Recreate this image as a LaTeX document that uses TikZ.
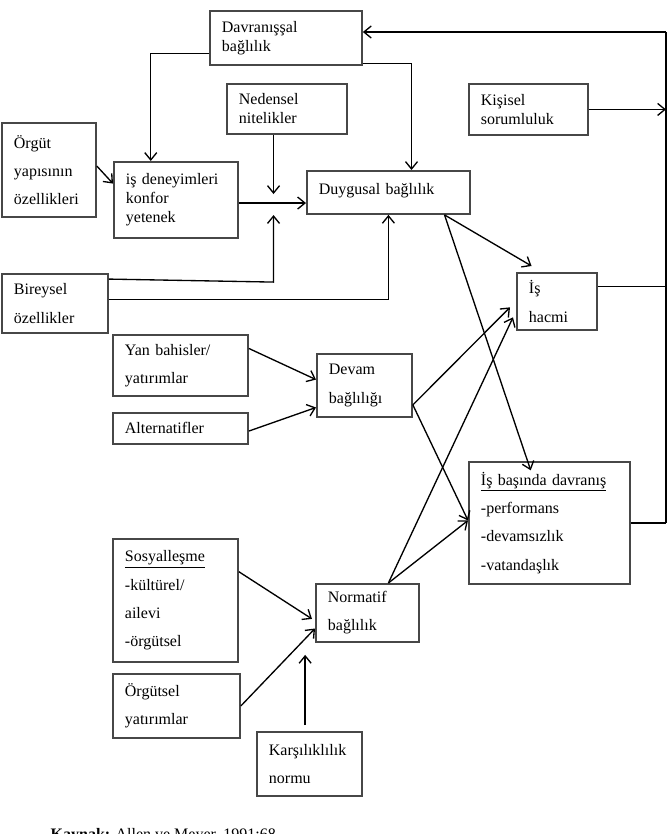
\documentclass[tikz,border=0pt]{standalone}
\usepackage{fontspec}
\setmainfont{Liberation Serif}
\usetikzlibrary{
    arrows.meta,
    calc
}
\tikzset{
    every picture/.style = {
        > = {Straight Barb[length = 5.5pt, width = 9pt]},
        x = 0.75pt,
        y = -0.75pt,
        line width = 1pt
    },
    box/.style 2 args = {
        draw = black!72,
        line width = 1.4pt,
        anchor = north west,
        align = left,
        inner xsep = 9pt,
        inner ysep = 0pt,
        text width = #1,
        minimum height = #2
    },
    tight/.style = {font = \fontsize{12}{14.25}\selectfont},
    loose/.style = {font = \fontsize{12}{21.2}\selectfont}
}

\begin{document}
\begin{tikzpicture}[font = \fontsize{12}{14}\selectfont]
                \useasboundingbox (0, 0) rectangle (667, 834);
                \node[box = {96pt}{40.5pt}, tight] (dav) at (209, 10) {Davranışşal\\bağlılık};
                \node[box = {72pt}{37.5pt}, tight] (ned) at (226, 83) {Nedensel\\nitelikler};
                \node[box = {71.25pt}{38.25pt}, tight] (kis) at (468, 83) {Kişisel\\sorumluluk};
                \node[box = {52.5pt}{70.5pt}, loose] (orgut) at (1, 122) {Örgüt\\yapısının\\özellikleri};
                \node[box = {75pt}{57pt}, tight] (isdeney) at (113, 161) {iş deneyimleri\\konfor\\yetenek};
                \node[box = {104.25pt}{32.25pt}, tight, text depth = 5pt] (duyg) at (306, 170) {Duygusal bağlılık};
                \node[box = {61.5pt}{44.25pt}, loose] (bir) at (1, 273) {Bireysel\\özellikler};
                \node[box = {42pt}{42.75pt}, loose] (hacmi) at (516, 272) {İş\\hacmi};
                \node[box = {83.25pt}{45.75pt}, loose] (yan) at (112, 334) {Yan bahisler/\\yatırımlar};
                \node[box = {83.25pt}{23.25pt}, loose] (alt) at (112, 412) {Alternatifler};
                \node[box = {53.25pt}{47.25pt}, loose] (devam) at (316, 353) {Devam\\bağlılığı};
                \node[box = {102.75pt}{91.5pt}, loose] (davr) at (468, 461) {\underline{İş başında davranış}\\-performans\\-devamsızlık\\-vatandaşlık};
                \node[box = {75.75pt}{92.25pt}, loose] (sos) at (112, 538) {\underline{Sosyalleşme}\\-kültürel/\\ailevi\\-örgütsel};
                \node[box = {59.25pt}{43.5pt}, loose] (norm) at (315, 583) {Normatif\\bağlılık};
                \node[box = {77.25pt}{48pt}, loose] (orgyat) at (112, 673) {Örgütsel\\yatırımlar};
                \node[box = {60.75pt}{48pt}, loose] (kars) at (256, 731) {Karşılıklılık\\normu};
                \node[anchor = base west, inner sep = 0pt] (kaynak) at (50, 839) {\textbf{Kaynak:} Allen ve Meyer, 1991:68};
                \coordinate (rtop) at (666, 32);
                \coordinate (rbot) at (davr.east -| rtop);
                \coordinate (davA) at ($(dav.north west)!0.78!(dav.south west)$);
                \coordinate (davB) at ($(dav.north east)!0.96!(dav.south east)$);
                \coordinate (isA) at ($(isdeney.north west)!0.3!(isdeney.north east)$);
                \coordinate (isB) at ($(isdeney.north west)!0.29!(isdeney.south west)$);
                \coordinate (isC) at ($(isdeney.north east)!0.54!(isdeney.south east)$);
                \coordinate (duyA) at ($(duyg.north west)!0.64!(duyg.north east)$);
                \coordinate (duyB) at ($(duyg.south west)!0.84!(duyg.south east)$);
                \coordinate (orgA) at ($(orgut.north east)!0.46!(orgut.south east)$);
                \coordinate (nedA) at ($(ned.south west)!0.39!(ned.south east)$);
                \coordinate (birA) at ($(bir.north east)!0.1!(bir.south east)$);
                \coordinate (birB) at ($(bir.north east)!0.44!(bir.south east)$);
                \coordinate (hacA) at ($(hacmi.north west)!0.19!(hacmi.north east)$);
                \coordinate (hacB) at ($(hacmi.north west)!0.6!(hacmi.south west)$);
                \coordinate (hacC) at ($(hacmi.north west)!0.77!(hacmi.south west)$);
                \coordinate (hacD) at ($(hacmi.north east)!0.25!(hacmi.south east)$);
                \coordinate (davrA) at ($(davr.north west)!0.385!(davr.north east)$);
                \coordinate (davrB) at ($(davr.north west)!0.48!(davr.south west)$);
                \coordinate (yanA) at ($(yan.north east)!0.23!(yan.south east)$);
                \coordinate (altA) at ($(alt.north east)!0.58!(alt.south east)$);
                \coordinate (devA) at ($(devam.north west)!0.41!(devam.south west)$);
                \coordinate (devB) at ($(devam.north west)!0.84!(devam.south west)$);
                \coordinate (devC) at ($(devam.north east)!0.8!(devam.south east)$);
                \coordinate (norA) at ($(norm.north west)!0.7!(norm.north east)$);
                \coordinate (norB) at ($(norm.north west)!0.6!(norm.south west)$);
                \coordinate (norC) at ($(norm.north west)!0.76!(norm.south west)$);
                \coordinate (sosA) at ($(sos.north east)!0.27!(sos.south east)$);
                \coordinate (karA) at ($(kars.north west)!0.46!(kars.north east)$);
                \draw (rtop) -- (rbot);
                \draw[->] (rtop) -- (rtop -| dav.east);
                \draw[->] (kis.east) -- (kis.east -| rtop);
                \draw (hacD) -- (hacD -| rtop);
                \draw (davr.east) -- (rbot);
                \draw[->] (davA) -| (isA);
                \draw[->] (davB) -| (duyA);
                \draw[->] (orgA) -- (isB);
                \draw[->] (isC) -- (isC -| duyg.west);
                \draw[->] (nedA) -- ([yshift = 6.75pt]nedA |- isC);
                \draw[->] (birA) -- ([yshift = -2.25pt]nedA |- birA) -- ([yshift = -9pt]nedA |- isC);
                \draw[->] (birB) -| (duyg.south);
                \draw[->] (duyB) -- ([yshift = 4.5pt]hacA);
                \draw[->] (duyB) -- ([yshift = -7pt]davrA);
                \draw[->] (yanA) -- (devA);
                \draw[->] (altA) -- (devB);
                \draw[->] (devC) -- ([xshift = -4.5pt]hacB);
                \draw[->] (devC) -- (davrB);
                \draw[->] (norA) -- ([xshift = -2.25pt]hacC);
                \draw[->] (norA) -- (davrB);
                \draw[->] (sosA) -- ([xshift = -2.25pt]norB);
                \draw[->] (orgyat.east) -- (norC);
                \draw[->] ([yshift = 4.5pt]karA) -- ([yshift = -9pt]karA |- norm.south);
            \end{tikzpicture}
\end{document}
